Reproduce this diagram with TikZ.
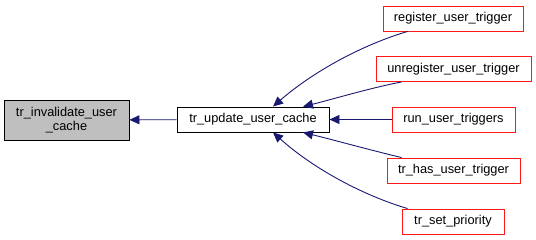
\documentclass[tikz,border=0pt]{standalone}
\usepackage{fontspec}
\setmainfont{Liberation Sans}
\usetikzlibrary{arrows.meta}
\definecolor{edgeblue}{HTML}{191970}
\definecolor{nodegray}{HTML}{BFBFBF}
\tikzset{
  fn/.style={draw=black, fill=white, line width=0.9pt, inner sep=0pt,
    font=\fontsize{12.8}{14.5}\selectfont, align=center},
  caller/.style={fn, draw=red!90},
  current/.style={fn, fill=nodegray},
  edge/.style={draw=edgeblue, line width=0.9pt,
    -{Triangle[length=10pt,width=9pt]}}
}
\begin{document}
\begin{tikzpicture}[x=1pt,y=-1pt]
\useasboundingbox (0,0) rectangle (536,240);
% focus function and its direct caller
\node[current, minimum width=125pt, minimum height=40pt] (inv) at (66.5,120) {tr\_invalidate\_user\\\_cache};
\node[fn, minimum width=152pt, minimum height=25pt] (upd) at (253,119.5) {tr\_update\_user\_cache};
% callers of tr_update_user_cache
\node[caller, minimum width=140pt, minimum height=25pt] (reg) at (453,18.5) {register\_user\_trigger};
\node[caller, minimum width=155pt, minimum height=25pt] (unreg) at (453.5,69) {unregister\_user\_trigger};
\node[caller, minimum width=123pt, minimum height=25pt] (run) at (453.5,119.5) {run\_user\_triggers};
\node[caller, minimum width=133pt, minimum height=25pt] (has) at (453.5,170.5) {tr\_has\_user\_trigger};
\node[caller, minimum width=102pt, minimum height=25pt] (prio) at (453,221.5) {tr\_set\_priority};
% call edges
\draw[edge] (upd) -- (inv);
\draw[edge] ([xshift=25pt]reg.south west) .. controls (365,44) and (315,70) .. ([xshift=20pt]upd.north);
\draw[edge] ([xshift=26pt]unreg.south west) .. controls (370,88) and (330,100) .. ([xshift=50pt]upd.north);
\draw[edge] (run) -- (upd);
\draw[edge] ([xshift=15pt]has.north west) .. controls (370,150) and (330,139) .. ([xshift=50pt]upd.south);
\draw[edge] ([xshift=6pt]prio.north west) .. controls (365,196) and (315,170) .. ([xshift=20pt]upd.south);
\end{tikzpicture}
\end{document}
